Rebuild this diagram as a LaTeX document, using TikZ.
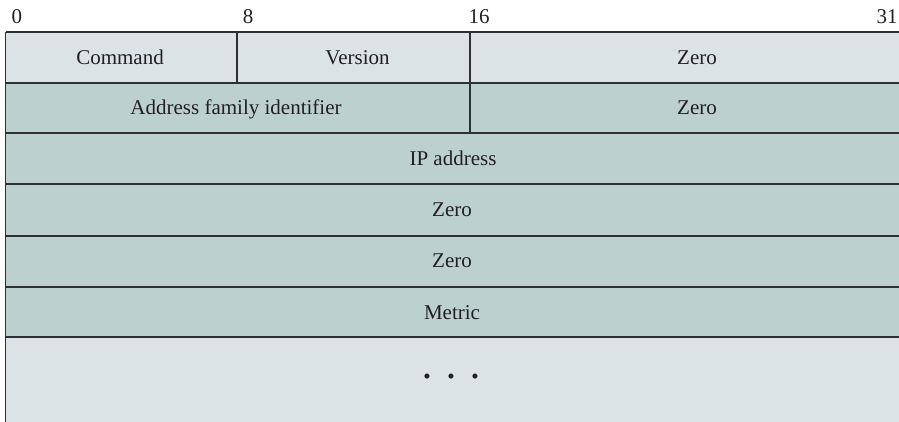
\documentclass[tikz,border=0pt]{standalone}
\usepackage{fontspec}
\setmainfont{Liberation Serif}
\usepackage{xcolor}
\usetikzlibrary{positioning}
\definecolor{ink}{HTML}{231F20}
\definecolor{rule}{HTML}{2E3131}
\definecolor{pale}{HTML}{DCE3E6}
\definecolor{sage}{HTML}{BCD1CE}

\begin{document}
\begin{tikzpicture}[x=0.5pt,y=-0.5pt,font=\fontsize{10.5}{12}\selectfont,
  field/.style={text=ink,inner sep=0pt,anchor=base},
  hrule/.style={draw=rule,line width=0.9pt},
  vrule/.style={draw=rule,line width=0.65pt}]
\useasboundingbox (0,0) rectangle (899,422);
% row fills
\fill[pale] (5.5,31.7) rectangle (899,82.7);
\fill[sage] (5.5,82.7) rectangle (899,337.3);
\fill[pale] (5.5,337.3) rectangle (899,422);
% rules between rows, and the dividers
\foreach \y in {31.7,82.7,133.3,184.3,235.7,286.7,337.3} {\draw[hrule] (5.5,\y) -- (899,\y);}
\draw[vrule] (5.5,31.7) -- (5.5,422);
\draw[vrule] (237,31.7) -- (237,82.7);
\draw[vrule] (470,31.7) -- (470,133.3);
% bit positions
\node[field] (bit0) at (17,24) {0};
\node[field] (bit8) at (248,24) {8};
\node[field] (bit16) at (479,24) {16};
\node[field,anchor=base east] (bit31) at (898,24) {31};
% fields (baselines 7 below the row middles)
\node[field] (command) at (120,64.5) {Command};
\node[field] (version) at (357.5,64.5) {Version};
\node[field] (zeroa) at (697,64.5) {Zero};
\node[field] (afi) at (236,115) {Address family identifier};
\node[field] (zerob) at (697,115) {Zero};
\node[field] (ipaddr) at (453,166) {IP address};
\node[field] (zeroc) at (452,217) {Zero};
\node[field] (zerod) at (452,268) {Zero};
\node[field] (metric) at (452,319) {Metric};
\node[field,anchor=center] (more) at (451,378.5) {•\hspace{8.3pt}•\hspace{8.3pt}•};
\end{tikzpicture}
\end{document}
